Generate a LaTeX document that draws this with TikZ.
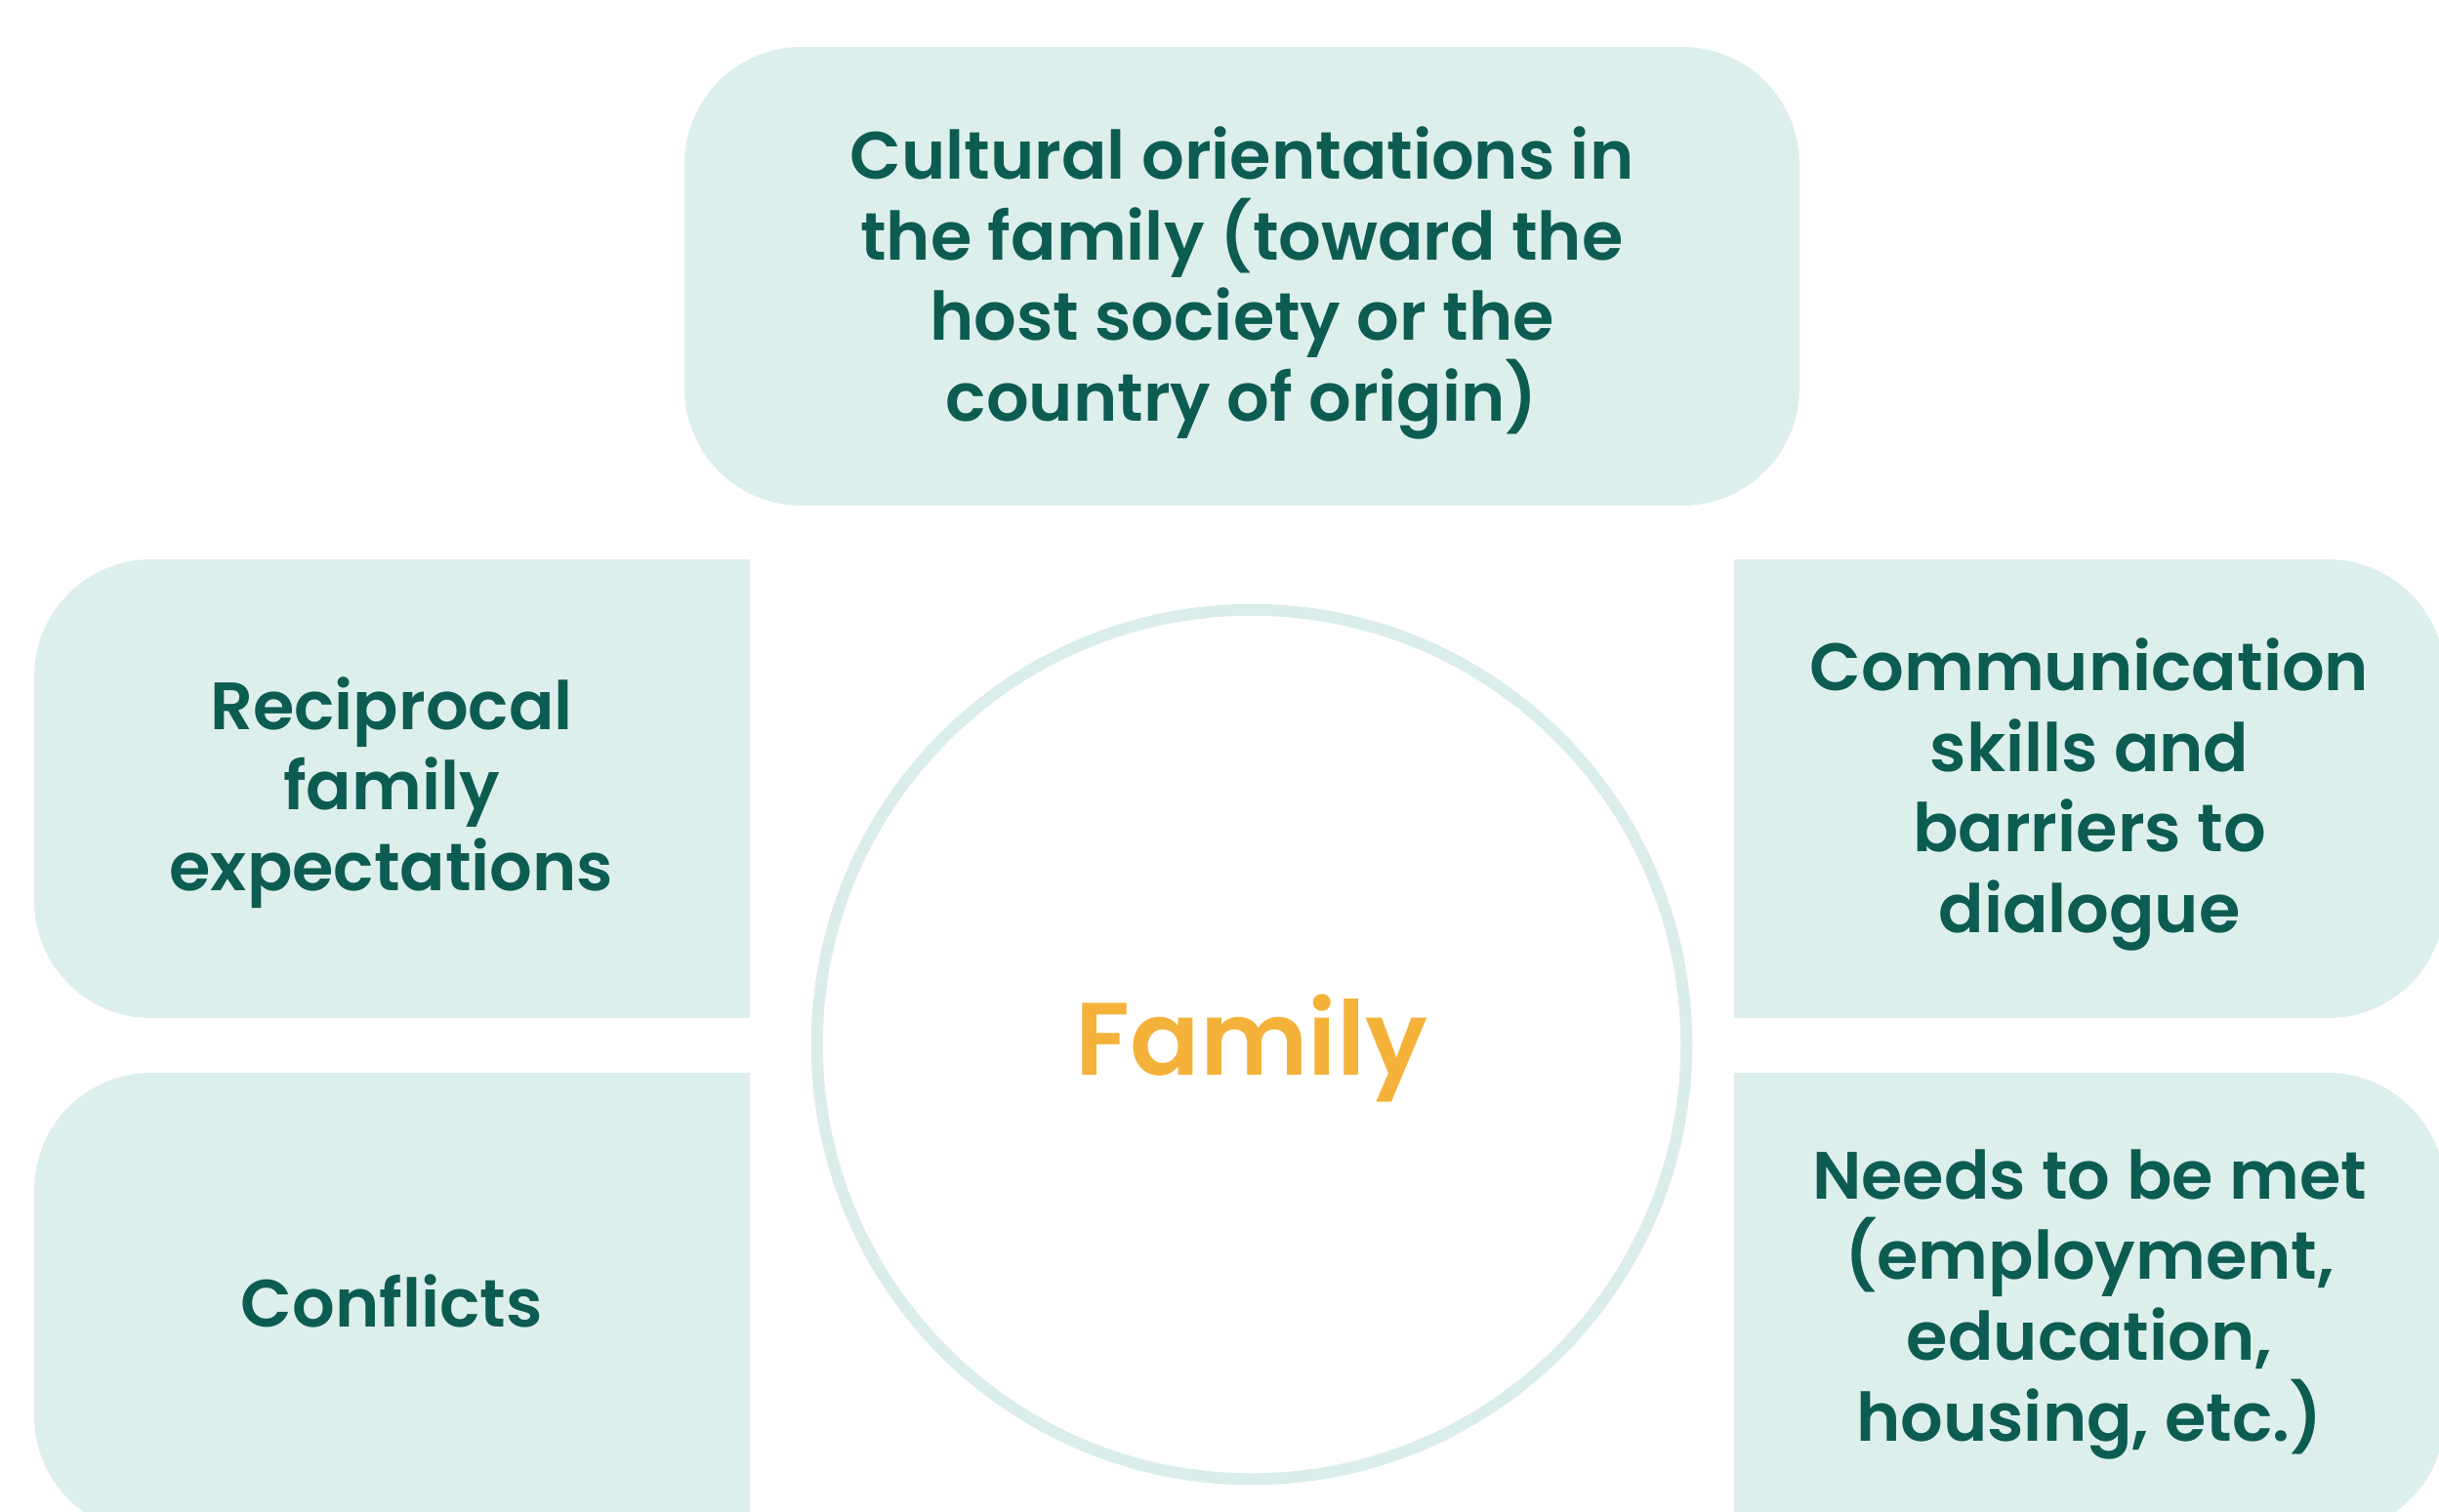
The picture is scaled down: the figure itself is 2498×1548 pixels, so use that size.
\documentclass[tikz,border=0pt]{standalone}
\usepackage{fontspec}
\setmainfont{Poppins}[BoldFont={* SemiBold}]
\definecolor{boxfill}{HTML}{DDEFED}
\definecolor{ringcol}{HTML}{DAEDEB}
\definecolor{txtcol}{HTML}{0D5C51}
\definecolor{orangecol}{HTML}{F4B23A}
\tikzset{
  boxtext/.style={text=txtcol, align=center, font=\bfseries\fontsize{19.5}{23.5}\selectfont},
  boxshape/.style={fill=boxfill},
}
\begin{document}
\begin{tikzpicture}[x=0.01cm,y=-0.01cm]
\useasboundingbox (0,0) rectangle (2498,1548);
% top box
\fill[boxshape, rounded corners=1.2cm] (701,48) rectangle (1843,518);
% left boxes (rounded left corners)
\fill[boxshape] (768,573) [rounded corners=1.2cm] -- (35,573) -- (35,1043) [sharp corners] -- (768,1043) -- cycle;
\fill[boxshape] (768,1099) [rounded corners=1.2cm] -- (35,1099) -- (35,1571) [sharp corners] -- (768,1571) -- cycle;
% right boxes (rounded right corners)
\fill[boxshape] (1776,573) [rounded corners=1.2cm] -- (2504,573) -- (2504,1043) [sharp corners] -- (1776,1043) -- cycle;
\fill[boxshape] (1776,1099) [rounded corners=1.2cm] -- (2504,1099) -- (2504,1571) [sharp corners] -- (1776,1571) -- cycle;
% circle
\node[circle, draw=ringcol, line width=0.12cm, minimum size=8.9cm, inner sep=0pt] (ring) at (1282,1070) {};
\node[text=orangecol, font=\bfseries\fontsize{30}{34}\selectfont] (family) at (1282,1074) {Family};
% texts
\node[boxtext] (cultural) at (1272,290) {Cultural orientations in\\the family (toward the\\host society or the\\country of origin)};
\node[boxtext] (recip) at (401,812) {Reciprocal\\family\\expectations};
\node[boxtext] (conflicts) at (401,1333) {Conflicts};
\node[boxtext] (comm) at (2140,814) {Communication\\skills and\\barriers to\\dialogue};
\node[boxtext] (needs) at (2140,1336) {Needs to be met\\(employment,\\education,\\housing, etc.)};
\end{tikzpicture}
\end{document}
